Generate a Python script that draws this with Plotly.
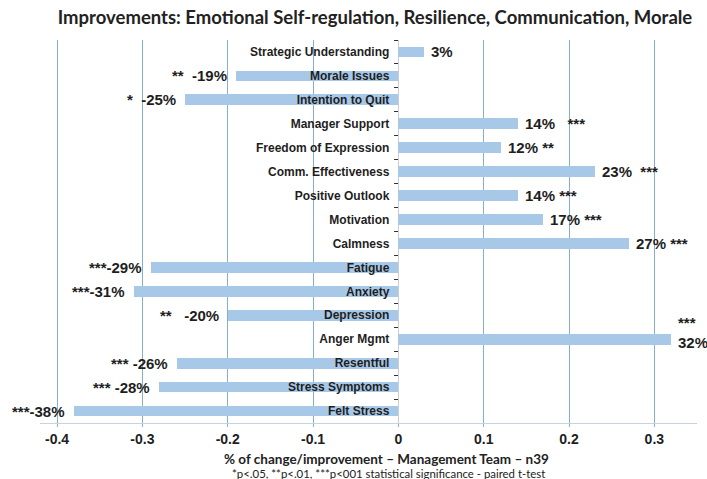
import plotly.graph_objects as go

categories = [
    "Strategic Understanding", "Morale Issues", "Intention to Quit", "Manager Support",
    "Freedom of Expression", "Comm. Effectiveness", "Positive Outlook", "Motivation",
    "Calmness", "Fatigue", "Anxiety", "Depression", "Anger Mgmt", "Resentful",
    "Stress Symptoms", "Felt Stress",
]
values = [0.03, -0.19, -0.25, 0.14, 0.12, 0.23, 0.14, 0.17,
          0.27, -0.29, -0.31, -0.20, 0.32, -0.26, -0.28, -0.38]
value_labels = [
    "3%", "**  -19%", "*  -25%", "14%   ***", "12% **", "23%  ***", "14% ***", "17% ***",
    "27% ***", "***-29%", "***-31%", "**   -20%", "***<br>32%", "*** -26%", "*** -28%", "***-38%",
]
x_tickvals = [-0.4, -0.3, -0.2, -0.1, 0, 0.1, 0.2, 0.3]
x_ticktext = ["-0.4", "-0.3", "-0.2", "-0.1", "0", "0.1", "0.2", "0.3"]

title_text = "Improvements: Emotional Self-regulation, Resilience, Communication, Morale"
axis_title = "% of change/improvement \u2013 Management Team \u2013 n39"
footnote = "*p<.05, **p<.01, ***p<001 statistical significance - paired t-test"

X_MIN, X_MAX = -0.42, 0.35
BAR_COLOR = "#A8C8E8"
GRID_COLOR = "#86AECD"
TEXT_COLOR = "#1E1E1E"

FIG_W, FIG_H = 707, 479
M_L, M_R, M_T, M_B = 40, 10, 40, 479 - 423
PLOT_W = FIG_W - M_L - M_R
PLOT_H = FIG_H - M_T - M_B

fig = go.Figure()
fig.add_trace(go.Bar(
    y=categories, x=values, orientation="h",
    marker=dict(color=BAR_COLOR, line=dict(width=0)),
    width=0.45, hoverinfo="skip",
))

for cat, val, lab in zip(categories, values, value_labels):
    txt = lab.replace(" ", "\u00a0")
    two_line = "<br>" in lab
    fig.add_annotation(
        x=val, y=cat, xref="x", yref="y",
        text=txt, showarrow=False,
        xanchor="left" if val >= 0 else "right",
        xshift=5 if val >= 0 else -7,
        yshift=7 if two_line else 0,
        align="left",
        font=dict(family="Liberation Sans, Arial, sans-serif", size=15, color=TEXT_COLOR, weight="bold"),
    )

zero_pos = (0 - X_MIN) / (X_MAX - X_MIN)

fig.update_layout(
    width=FIG_W, height=FIG_H,
    margin=dict(l=M_L, r=M_R, t=M_T, b=M_B, autoexpand=False),
    paper_bgcolor="white", plot_bgcolor="white",
    showlegend=False,
    bargap=0,
    title=dict(
        text=title_text, x=375 / FIG_W, xanchor="center",
        y=1 - 18 / FIG_H, yanchor="middle",
        font=dict(family="Lato, sans-serif", size=18.5, color="#222222", weight="bold"),
    ),
    xaxis=dict(
        range=[X_MIN, X_MAX], tickvals=x_tickvals, ticktext=x_ticktext,
        showgrid=True, gridcolor=GRID_COLOR, gridwidth=1,
        zeroline=True, zerolinecolor="#C9CED4", zerolinewidth=1,
        showline=True, linecolor="#C9D3DC", linewidth=1,
        ticks="outside", ticklen=3, tickcolor=GRID_COLOR,
        tickfont=dict(family="Liberation Sans, Arial, sans-serif", size=14, color=TEXT_COLOR, weight="bold"),
        fixedrange=True,
    ),
    yaxis=dict(
        type="category", categoryorder="array", categoryarray=categories,
        autorange="reversed",
        anchor="free", position=zero_pos,
        showgrid=False, zeroline=False, showline=False,
        ticks="outside", tickson="boundaries", ticklen=4, tickcolor="#333333",
        ticklabelstandoff=9,
        tickfont=dict(family="Liberation Sans, Arial, sans-serif", size=12, color=TEXT_COLOR, weight="bold"),
        fixedrange=True,
    ),
)


def page_to_paper(px, py):
    return (px - M_L) / PLOT_W, (FIG_H - py - M_B) / PLOT_H


ax, ay = page_to_paper(386, 459)
fig.add_annotation(
    x=ax, y=ay, xref="paper", yref="paper", text=axis_title, showarrow=False,
    font=dict(family="Lato, sans-serif", size=13.5, color="#222222", weight="bold"),
    xanchor="center", yanchor="middle",
)
fx, fy = page_to_paper(388, 473)
fig.add_annotation(
    x=fx, y=fy, xref="paper", yref="paper", text=footnote, showarrow=False,
    font=dict(family="Lato, sans-serif", size=11.4, color="#222222"),
    xanchor="center", yanchor="middle",
)

fig.write_html(
    "out.html",
    config={"displayModeBar": False, "staticPlot": True},
    post_script="document.body.style.margin='0';document.body.style.overflow='hidden';",
)
